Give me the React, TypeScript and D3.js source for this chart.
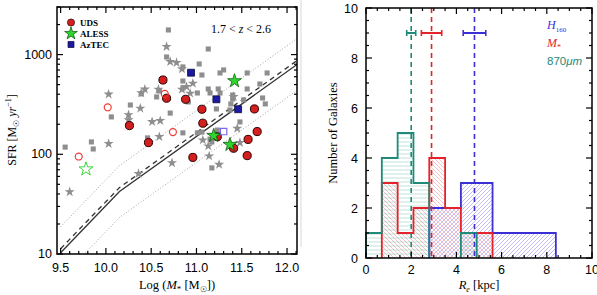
import React, { useRef, useEffect } from 'react';
import * as d3 from 'd3';

// ---- left panel: SFR vs stellar mass ----
// background comparison samples
const greySqMass = [10.69, 11.13, 10.67, 10.85, 11.03, 11.06, 11.26, 11.30, 11.56, 11.78, 10.85, 10.85, 11.01, 11.13, 11.24, 11.15, 11.26, 11.40, 11.40, 11.56, 11.70, 11.73, 11.76, 11.52, 10.91, 10.71, 10.56, 10.59, 10.39, 10.27, 10.06, 11.22, 11.38, 11.37, 11.48, 10.85, 11.01, 11.23, 11.06, 11.15, 11.17, 9.55, 9.84, 9.86, 11.17, 10.46];
const greySqSfr = [1765, 1138, 946, 751, 805, 624, 654, 701, 654, 654, 543, 462, 412, 452, 452, 412, 412, 393, 359, 452, 507, 367, 320, 351, 335, 259, 376, 431, 403, 312, 237, 285, 320, 278, 211, 164, 164, 175, 167, 142, 133, 118, 133, 113, 73, 146];
const greyStarMass = [10.67, 10.71, 10.78, 10.84, 10.43, 10.39, 10.58, 10.84, 10.89, 10.96, 10.03, 10.25, 10.25, 10.38, 10.51, 10.60, 10.59, 10.03, 10.36, 10.73, 11.07, 11.13, 11.14, 11.25, 11.45, 11.48, 9.60, 11.41, 10.93];
const greyStarSfr = [1200, 849, 830, 717, 449, 412, 447, 447, 476, 515, 400, 248, 221, 289, 212, 217, 150, 128, 64, 82, 139, 121, 96, 79, 182, 131, 42, 378, 409];

// submm samples (filled = detections, open = tentative)
const udsMass = [10.63, 10.67, 10.88, 11.06, 10.26, 11.07, 11.64, 11.67, 11.57, 10.47, 11.23, 11.41, 10.96, 11.56];
const udsSfr = [556, 365, 356, 283, 194, 205, 285, 169, 141, 131, 150, 115, 93, 97];
const udsOpenMass = [10.02, 10.65, 10.74, 9.70];
const udsOpenSfr = [296, 403, 167, 95];
const alessMass = [11.42, 11.19, 11.37];
const alessSfr = [544, 154, 125];
const alessOpenMass = [9.78];
const alessOpenSfr = [71];
const aztecMass = [10.94, 11.22, 11.46];
const aztecSfr = [658, 356, 283];
const aztecOpenMass = [11.30];
const aztecOpenSfr = [169];

// main sequence relation (broken power law) and its scatter
const msMass = [9.5, 10.15, 12.2];
const msSfr = [10.3, 42.3, 909];
const msDashOffset = 0.04; // dex
const msScatter = 0.26; // dex

const massTicks = [9.5, 10.0, 10.5, 11.0, 11.5, 12.0];
const sfrTicks = [10, 100, 1000];

// ---- right panel: size histograms ----
const binEdges = [0, 0.7, 1.4, 2.1, 2.8, 3.5, 4.2, 4.9, 5.6, 6.3, 7.0, 7.7, 8.4];
const countsH160 = [0, 0, 0, 0, 2, 2, 3, 3, 1, 1, 1, 1];
const countsMstar = [0, 3, 1, 2, 4, 2, 1, 1, 0, 0, 0, 0];
const counts870 = [1, 4, 5, 3, 0, 0, 1, 0, 0, 0, 0, 0];
const medianRe = [4.8, 2.9, 2.0]; // H160, M*, 870um
const medianErr = [0.5, 0.45, 0.2];
const reTicks = [0, 2, 4, 6, 8, 10];
const nTicks = [0, 2, 4, 6, 8, 10];

const BLUE = '#3b2fd6';
const RED = '#e5222b';
const TEAL = '#1f8a78';

const App: React.FC = () => {
    const svgRef = useRef<SVGSVGElement | null>(null);

    useEffect(() => {
        if (!svgRef.current) return;
        const svg = d3.select(svgRef.current);
        svg.selectAll('*').remove();

        const sans = 'Liberation Sans, Arial, sans-serif';
        const serif = 'Liberation Serif, Times New Roman, serif';

        // faint divider between the two panels
        svg.append('line').attr('x1', 301).attr('x2', 301).attr('y1', 0).attr('y2', 247)
            .attr('stroke', '#d8d8d8').attr('stroke-width', 1);

        // ================= left panel =================
        const x = d3.scaleLinear().domain([9.46, 12.11]).range([57, 297]);
        const y = d3.scaleLog().domain([10, 3000]).range([254, 7]);

        const defs = svg.append('defs');
        defs.append('clipPath').attr('id', 'clipL').append('rect')
            .attr('x', 57).attr('y', 7).attr('width', 240).attr('height', 247);

        const gL = svg.append('g');
        const lines = gL.append('g').attr('clip-path', 'url(#clipL)');

        const msPts = msMass.map((m, i) => [m, msSfr[i]] as [number, number]);
        const lineGen = (off: number) => d3.line<[number, number]>()
            .x(d => x(d[0]))
            .y(d => y(d[1] * Math.pow(10, off)));

        [msScatter, -msScatter].forEach(off => {
            lines.append('path').attr('d', lineGen(off)(msPts) as string)
                .attr('fill', 'none').attr('stroke', '#8a8a8a').attr('stroke-width', 0.8)
                .attr('stroke-dasharray', '1,2');
        });
        lines.append('path').attr('d', lineGen(0)(msPts) as string)
            .attr('fill', 'none').attr('stroke', '#333').attr('stroke-width', 1.3);
        lines.append('path').attr('d', lineGen(msDashOffset)(msPts) as string)
            .attr('fill', 'none').attr('stroke', '#333').attr('stroke-width', 1.3)
            .attr('stroke-dasharray', '5,4');

        const sym = (type: d3.SymbolType, size: number) => d3.symbol().type(type).size(size)() as string;

        const pts = gL.append('g');
        const plot = (ms: number[], sf: number[], path: string, fill: string, stroke: string, sw: number) => {
            pts.selectAll(null).data(ms.map((m, i) => [m, sf[i]])).enter().append('path')
                .attr('d', path)
                .attr('transform', d => `translate(${x(d[0])},${y(d[1])})`)
                .attr('fill', fill).attr('stroke', stroke).attr('stroke-width', sw);
        };

        plot(greySqMass, greySqSfr, sym(d3.symbolSquare, 26), '#8e8e8e', 'none', 0);
        plot(greyStarMass, greyStarSfr, sym(d3.symbolStar, 32), '#8e8e8e', 'none', 0);
        plot(udsMass, udsSfr, sym(d3.symbolCircle, 52), '#d41f1f', '#2a0000', 1);
        plot(udsOpenMass, udsOpenSfr, sym(d3.symbolCircle, 38), 'none', '#ee3b33', 1.2);
        plot(aztecMass, aztecSfr, sym(d3.symbolSquare, 48), '#1c1aa0', '#0a0a40', 0.8);
        plot(aztecOpenMass, aztecOpenSfr, sym(d3.symbolSquare, 40), 'none', '#7a68f0', 1.2);
        plot(alessMass, alessSfr, sym(d3.symbolStar, 60), '#2ed62e', '#0c4a0c', 0.7);
        plot(alessOpenMass, alessOpenSfr, sym(d3.symbolStar, 60), 'none', '#3ed63e', 1);

        // frame and inward ticks
        gL.append('rect').attr('x', 57).attr('y', 7).attr('width', 240).attr('height', 247)
            .attr('fill', 'none').attr('stroke', '#000').attr('stroke-width', 1.5);
        const tk = gL.append('g').attr('stroke', '#000').attr('stroke-width', 1.2);
        d3.range(9.5, 12.101, 0.1).forEach(v => {
            const major = massTicks.some(t => Math.abs(t - v) < 1e-6);
            const len = major ? 6 : 3;
            tk.append('line').attr('x1', x(v)).attr('x2', x(v)).attr('y1', 254).attr('y2', 254 - len);
            tk.append('line').attr('x1', x(v)).attr('x2', x(v)).attr('y1', 7).attr('y2', 7 + len);
        });
        y.ticks().forEach(v => {
            const major = sfrTicks.includes(v);
            const len = major ? 6 : 3;
            tk.append('line').attr('x1', 57).attr('x2', 57 + len).attr('y1', y(v)).attr('y2', y(v));
            tk.append('line').attr('x1', 297).attr('x2', 297 - len).attr('y1', y(v)).attr('y2', y(v));
        });

        gL.selectAll(null).data(massTicks).enter().append('text')
            .attr('x', d => x(d)).attr('y', 272).attr('text-anchor', 'middle')
            .style('font-family', sans).style('font-size', '12.5px').text(d => d.toFixed(1));
        gL.selectAll(null).data(sfrTicks).enter().append('text')
            .attr('x', 52).attr('y', d => y(d) + 4).attr('text-anchor', 'end')
            .style('font-family', sans).style('font-size', '12.5px').text(d => d);

        // axis titles
        const xt = gL.append('text').attr('x', 177).attr('y', 289).attr('text-anchor', 'middle')
            .style('font-family', serif).style('font-size', '12.5px');
        xt.append('tspan').text('Log (');
        xt.append('tspan').style('font-style', 'italic').text('M');
        xt.append('tspan').attr('dy', 3).style('font-size', '9px').text('*');
        xt.append('tspan').attr('dy', -3).text(' [M');
        xt.append('tspan').attr('dy', 3).style('font-size', '8px').text('☉');
        xt.append('tspan').attr('dy', -3).text('])');

        const yt = gL.append('text').attr('transform', 'translate(16,130) rotate(-90)')
            .attr('text-anchor', 'middle').style('font-family', serif).style('font-size', '12px');
        yt.append('tspan').text('SFR [M');
        yt.append('tspan').attr('dy', 3).style('font-size', '8px').text('☉');
        yt.append('tspan').attr('dy', -3).text(' ');
        yt.append('tspan').style('font-style', 'italic').text('yr');
        yt.append('tspan').attr('dy', -5).style('font-size', '8px').text('−1');
        yt.append('tspan').attr('dy', 5).text(']');

        const zt = gL.append('text').attr('x', 241).attr('y', 33).attr('text-anchor', 'middle')
            .style('font-family', serif).style('font-size', '12px');
        zt.append('tspan').text('1.7 < ');
        zt.append('tspan').style('font-style', 'italic').text('z');
        zt.append('tspan').text(' < 2.6');

        // legend
        const legend = [
            { label: 'UDS', path: sym(d3.symbolCircle, 40), fill: '#d41f1f', stroke: '#2a0000' },
            { label: 'ALESS', path: sym(d3.symbolStar, 50), fill: '#2ed62e', stroke: '#0c4a0c' },
            { label: 'AzTEC', path: sym(d3.symbolSquare, 36), fill: '#1c1aa0', stroke: '#0a0a40' },
        ];
        const lg = gL.selectAll('.legend').data(legend).enter().append('g')
            .attr('class', 'legend').attr('transform', (d, i) => `translate(71,${22.5 + i * 11})`);
        lg.append('path').attr('d', d => d.path).attr('fill', d => d.fill)
            .attr('stroke', d => d.stroke).attr('stroke-width', 0.7);
        lg.append('text').attr('x', 9).attr('y', 3.5).style('font-family', serif)
            .style('font-size', '9px').style('font-weight', 'bold').text(d => d.label);

        // ================= right panel =================
        const xr = d3.scaleLinear().domain([0, 10]).range([366, 592]);
        const yr = d3.scaleLinear().domain([0, 10]).range([258, 8]);
        const gR = svg.append('g');

        const hatch = (id: string, color: string, kind: string) => {
            const p = defs.append('pattern').attr('id', id).attr('patternUnits', 'userSpaceOnUse')
                .attr('width', 4).attr('height', 4);
            if (kind === 'h') {
                p.append('line').attr('x1', 0).attr('x2', 4).attr('y1', 2).attr('y2', 2)
                    .attr('stroke', color).attr('stroke-width', 0.7);
            } else if (kind === 'f') {
                p.append('path').attr('d', 'M-1,5 L5,-1 M-1,1 L1,-1 M3,5 L5,3')
                    .attr('stroke', color).attr('stroke-width', 0.7);
            } else {
                p.append('path').attr('d', 'M-1,-1 L5,5 M3,-1 L5,1 M-1,3 L1,5')
                    .attr('stroke', color).attr('stroke-width', 0.7);
            }
        };
        hatch('hatchBlue', 'rgba(90,70,230,0.5)', 'f');
        hatch('hatchRed', 'rgba(230,60,70,0.42)', 'b');
        hatch('hatchTeal', 'rgba(40,150,130,0.42)', 'h');

        // step outline for each run of non-empty bins
        const runs = (counts: number[]) => {
            const out: [number, number][][] = [];
            let cur: [number, number][] | null = null;
            counts.forEach((c, i) => {
                if (c === 0) {
                    if (cur) { cur.push([binEdges[i], 0]); out.push(cur); cur = null; }
                    return;
                }
                if (!cur) cur = [[binEdges[i], 0]];
                cur.push([binEdges[i], c]);
                cur.push([binEdges[i + 1], c]);
            });
            if (cur) { cur.push([binEdges[counts.length], 0]); out.push(cur); }
            return out;
        };
        const area = d3.area<[number, number]>().x(d => xr(d[0])).y0(yr(0)).y1(d => yr(d[1]));
        const stepLine = d3.line<[number, number]>().x(d => xr(d[0])).y(d => yr(d[1]));

        const hists = [
            { counts: countsH160, color: BLUE, fill: 'url(#hatchBlue)' },
            { counts: countsMstar, color: RED, fill: 'url(#hatchRed)' },
            { counts: counts870, color: TEAL, fill: 'url(#hatchTeal)' },
        ];
        hists.forEach(h => {
            runs(h.counts).forEach(r => {
                gR.append('path').attr('d', area(r) as string).attr('fill', h.fill);
            });
        });
        hists.forEach(h => {
            runs(h.counts).forEach(r => {
                gR.append('path').attr('d', stepLine(r) as string).attr('fill', 'none')
                    .attr('stroke', h.color).attr('stroke-width', 1.8);
            });
        });

        // medians with errors
        hists.forEach((h, i) => {
            const m = medianRe[i];
            gR.append('line').attr('x1', xr(m)).attr('x2', xr(m)).attr('y1', yr(10)).attr('y2', yr(0))
                .attr('stroke', h.color).attr('stroke-width', 1.6).attr('stroke-dasharray', '5,4');
            gR.append('line').attr('x1', xr(m - medianErr[i])).attr('x2', xr(m + medianErr[i]))
                .attr('y1', yr(9)).attr('y2', yr(9)).attr('stroke', h.color).attr('stroke-width', 2);
            [m - medianErr[i], m + medianErr[i]].forEach(e => {
                gR.append('line').attr('x1', xr(e)).attr('x2', xr(e)).attr('y1', yr(9) - 3).attr('y2', yr(9) + 3)
                    .attr('stroke', h.color).attr('stroke-width', 1.6);
            });
        });

        gR.append('rect').attr('x', 366).attr('y', 8).attr('width', 226).attr('height', 250)
            .attr('fill', 'none').attr('stroke', '#000').attr('stroke-width', 1.5);
        const tkR = gR.append('g').attr('stroke', '#000').attr('stroke-width', 1.2);
        d3.range(0, 10.01, 0.5).forEach(v => {
            const len = reTicks.includes(v) ? 6 : 3;
            tkR.append('line').attr('x1', xr(v)).attr('x2', xr(v)).attr('y1', 258).attr('y2', 258 - len);
            tkR.append('line').attr('x1', xr(v)).attr('x2', xr(v)).attr('y1', 8).attr('y2', 8 + len);
            tkR.append('line').attr('x1', 366).attr('x2', 366 + len).attr('y1', yr(v)).attr('y2', yr(v));
            tkR.append('line').attr('x1', 592).attr('x2', 592 - len).attr('y1', yr(v)).attr('y2', yr(v));
        });
        gR.selectAll(null).data(reTicks).enter().append('text')
            .attr('x', d => xr(d)).attr('y', 274).attr('text-anchor', 'middle')
            .style('font-family', sans).style('font-size', '12.5px').text(d => d);
        gR.selectAll(null).data(nTicks).enter().append('text')
            .attr('x', 358).attr('y', d => yr(d) + 4.5).attr('text-anchor', 'end')
            .style('font-family', sans).style('font-size', '12.5px').text(d => d);

        const rx = gR.append('text').attr('x', 479).attr('y', 289).attr('text-anchor', 'middle')
            .style('font-family', serif).style('font-size', '12.5px');
        rx.append('tspan').style('font-style', 'italic').text('R');
        rx.append('tspan').attr('dy', 2.5).style('font-size', '8px').style('font-style', 'italic').text('e');
        rx.append('tspan').attr('dy', -2.5).text(' [kpc]');

        gR.append('text').attr('transform', 'translate(337,133) rotate(-90)').attr('text-anchor', 'middle')
            .style('font-family', serif).style('font-size', '12.5px').text('Number of Galaxies');

        const l1 = gR.append('text').attr('x', 547).attr('y', 29).attr('fill', BLUE)
            .style('font-family', serif).style('font-size', '12px');
        l1.append('tspan').style('font-style', 'italic').text('H');
        l1.append('tspan').attr('dy', 3).style('font-size', '7px').text('160');
        const l2 = gR.append('text').attr('x', 547).attr('y', 47).attr('fill', RED)
            .style('font-family', serif).style('font-size', '12px');
        l2.append('tspan').style('font-style', 'italic').text('M');
        l2.append('tspan').attr('dy', 3).style('font-size', '8px').text('*');
        const l3 = gR.append('text').attr('x', 547).attr('y', 65).attr('fill', TEAL)
            .style('font-family', sans).style('font-size', '11.5px');
        l3.append('tspan').text('870');
        l3.append('tspan').style('font-style', 'italic').text('μm');
    }, []);

    return (
        <svg ref={svgRef} width={597} height={295}
            style={{ position: 'absolute', left: 0, top: 0, background: '#fff' }} />
    );
};

export default App;
